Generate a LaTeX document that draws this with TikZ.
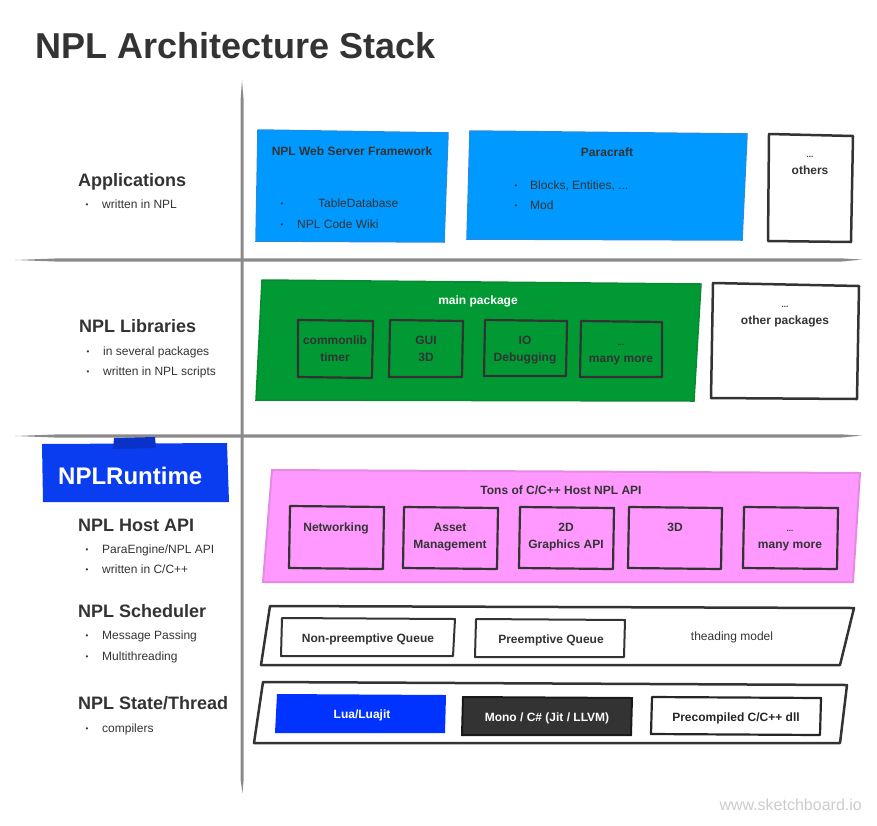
\documentclass[tikz,border=0pt]{standalone}
\usepackage{fontspec}
\setmainfont{Liberation Sans}
\definecolor{txt}{HTML}{333333}
\definecolor{appblue}{HTML}{0099FF}
\definecolor{appblueb}{HTML}{1E8FE8}
\definecolor{libgreen}{HTML}{009933}
\definecolor{libgreenb}{HTML}{0A8A30}
\definecolor{apipink}{HTML}{FF99FF}
\definecolor{apipinkb}{HTML}{E48AE4}
\definecolor{luablue}{HTML}{0033FF}
\definecolor{rtblue}{HTML}{0A3CF0}
\definecolor{rttab}{HTML}{0A32C8}
\definecolor{monodark}{HTML}{333333}
\definecolor{rulegray}{HTML}{8A8A8A}
\definecolor{wmark}{HTML}{CCCCCC}
\tikzset{
  heading/.style={font=\fontsize{18}{20}\selectfont\bfseries, text=txt, anchor=base west, inner sep=0},
  bultxt/.style={font=\fontsize{12}{14}\selectfont, text=txt, anchor=base west, inner sep=0},
  bulsym/.style={font=\fontsize{8}{9}\selectfont, text=txt, anchor=base, inner sep=0},
  lbl/.style={font=\fontsize{12}{14}\selectfont\bfseries, text=txt, anchor=base, inner sep=0},
  dots/.style={lbl, font=\fontsize{8}{9}\selectfont\bfseries},
  wlbl/.style={lbl, text=white},
  darkbox/.style={draw=txt, line width=2.5pt, line join=round},
  inbox/.style={darkbox, line width=2.2pt},
  appbox/.style={fill=appblue, draw=appblueb, line width=1.5pt},
  libbox/.style={fill=libgreen, draw=libgreenb, line width=1.5pt},
  apibox/.style={fill=apipink, draw=apipinkb, line width=2pt},
}
\begin{document}
\begin{tikzpicture}[x=1pt,y=-1pt]
\useasboundingbox (0,0) rectangle (877,825);
% title
\node[font=\fontsize{36}{40}\selectfont\bfseries, text=txt, anchor=base west, inner sep=0] (title) at (35,58) {NPL Architecture Stack};

% rules
\fill[rulegray] (15,260) -- (60,258.3) -- (840,258.3) -- (862,259.5) -- (840,261.7) -- (60,261.7) -- cycle;
\fill[rulegray] (15,436) -- (60,434.3) -- (840,434.3) -- (862,435.5) -- (840,437.7) -- (60,437.7) -- cycle;
\fill[rulegray] (242,80) -- (243.6,100) -- (243.6,780) -- (242.5,793) -- (240.6,780) -- (240.6,100) -- cycle;

% left headings
\node[heading] (happ) at (78,186) {Applications};
\node[bulsym] (b1) at (87,207) {•};
\node[bultxt] (t1) at (102,208) {written in NPL};

\node[heading] (hlib) at (79,332) {NPL Libraries};
\node[bulsym] (b2) at (88,354) {•};
\node[bultxt] (t2) at (103,355) {in several packages};
\node[bulsym] (b3) at (88,374) {•};
\node[bultxt] (t3) at (103,375) {written in NPL scripts};

% NPLRuntime
\fill[rtblue] (42,444) -- (227,443) -- (229,502) -- (43,502) -- cycle;
\fill[rttab] (114,438) -- (155,437) -- (156,448) -- (113,449) -- cycle;
\node[font=\fontsize{24}{28}\selectfont\bfseries, text=white, anchor=base west, inner sep=0] (rt) at (58,484) {NPLRuntime};

\node[heading] (hhost) at (78,531) {NPL Host API};
\node[bulsym] (b4) at (87,552) {•};
\node[bultxt] (t4) at (102,553) {ParaEngine/NPL API};
\node[bulsym] (b5) at (87,572) {•};
\node[bultxt] (t5) at (102,573) {written in C/C++};

\node[heading] (hsch) at (78,617) {NPL Scheduler};
\node[bulsym] (b6) at (87,638) {•};
\node[bultxt] (t6) at (102,639) {Message Passing};
\node[bulsym] (b7) at (87,659) {•};
\node[bultxt] (t7) at (102,660) {Multithreading};

\node[heading] (hst) at (78,709) {NPL State/Thread};
\node[bulsym] (b8) at (87,731) {•};
\node[bultxt] (t8) at (102,732) {compilers};

% Applications row
\filldraw[appbox] (258,130) -- (448,133) -- (444,242) -- (256,241) -- cycle;
\node[lbl] (web) at (352,155) {NPL Web Server Framework};
\node[bulsym] (wb1) at (282,206) {•};
\node[bultxt] (wt1) at (318,207) {TableDatabase};
\node[bulsym] (wb2) at (282,227) {•};
\node[bultxt] (wt2) at (297,228) {NPL Code Wiki};

\filldraw[appbox] (470,131) -- (747,134) -- (742,240) -- (467,239) -- cycle;
\node[lbl] (para) at (607,156) {Paracraft};
\node[bulsym] (pb1) at (516,188) {•};
\node[bultxt] (pt1) at (530,189) {Blocks, Entities, ...};
\node[bulsym] (pb2) at (516,208) {•};
\node[bultxt] (pt2) at (530,209) {Mod};

\filldraw[darkbox, fill=white] (769,134) -- (853,136) -- (851,242) -- (768,241) -- cycle;
\node[dots] (od) at (810,157) {...};
\node[lbl] (oth) at (810,174) {others};

% Libraries row
\filldraw[libbox] (262,280) -- (701,284) -- (694,401) -- (256,400) -- cycle;
\node[wlbl] (mainp) at (478,304) {main package};
\draw[inbox] (298,320) -- (373,321) -- (372,378) -- (298,377) -- cycle;
\node[lbl] (c1) at (335,344) {commonlib};
\node[lbl] (c2) at (335,361) {timer};
\draw[inbox] (390,320) -- (463,321) -- (462,377) -- (389,377) -- cycle;
\node[lbl] (g1) at (426,344) {GUI};
\node[lbl] (g2) at (426,361) {3D};
\draw[inbox] (485,320) -- (567,321) -- (566,376) -- (484,376) -- cycle;
\node[lbl] (i1) at (525,344) {IO};
\node[lbl] (i2) at (525,361) {Debugging};
\draw[inbox] (581,321) -- (662,322) -- (662,377) -- (580,377) -- cycle;
\node[dots] (m1) at (621,345) {...};
\node[lbl] (m2) at (621,362) {many more};

\filldraw[darkbox, fill=white] (713,283) -- (859,286) -- (857,399) -- (711,398) -- cycle;
\node[dots] (opd) at (785,307) {...};
\node[lbl] (op) at (785,324) {other packages};

% Host API row
\filldraw[apibox] (272,470) -- (860,473) -- (853,582) -- (263,582) -- cycle;
\node[lbl] (tons) at (561,494) {Tons of C/C++ Host NPL API};
\draw[inbox] (290,506) -- (384,507) -- (383,569) -- (289,568) -- cycle;
\node[lbl] (n1) at (336,531) {Networking};
\draw[inbox] (404,507) -- (498,508) -- (497,569) -- (403,568) -- cycle;
\node[lbl] (a1) at (450,531) {Asset};
\node[lbl] (a2) at (450,548) {Management};
\draw[inbox] (520,507) -- (614,508) -- (613,569) -- (519,568) -- cycle;
\node[lbl] (d1) at (566,531) {2D};
\node[lbl] (d2) at (566,548) {Graphics API};
\draw[inbox] (629,507) -- (722,508) -- (721,569) -- (628,568) -- cycle;
\node[lbl] (e1) at (675,531) {3D};
\draw[inbox] (744,507) -- (838,508) -- (837,569) -- (743,568) -- cycle;
\node[dots] (f1) at (790,531) {...};
\node[lbl] (f2) at (790,548) {many more};

% Scheduler row
\draw[darkbox] (270,606) -- (854,608) -- (840,665) -- (261,665) -- cycle;
\draw[darkbox, line width=2pt] (282,618) -- (455,619) -- (453,656) -- (281,656) -- cycle;
\node[lbl] (q1) at (368,642) {Non-preemptive Queue};
\draw[darkbox, line width=2pt] (476,619) -- (625,620) -- (624,657) -- (475,657) -- cycle;
\node[lbl] (q2) at (551,643) {Preemptive Queue};
\node[bultxt, anchor=base] (tm) at (732,640) {theading model};

% State/Thread row
\draw[darkbox] (263,682) -- (847,685) -- (840,743) -- (254,743) -- cycle;
\fill[luablue] (277,694) -- (446,695) -- (445,733) -- (275,733) -- cycle;
\node[wlbl] (lua) at (362,718) {Lua/Luajit};
\filldraw[monodark, draw=black!90, line width=2pt] (463,697) -- (632,698) -- (631,735) -- (462,735) -- cycle;
\node[wlbl] (mono) at (547,721) {Mono / C\# (Jit / LLVM)};
\draw[darkbox, line width=2.2pt, draw=black!85] (652,697) -- (821,698) -- (820,735) -- (651,734) -- cycle;
\node[lbl, text=black!85] (pre) at (736,721) {Precompiled C/C++ dll};

% watermark
\node[font=\fontsize{16}{18}\selectfont, text=wmark, anchor=base east, inner sep=0] (wm) at (862,810) {www.sketchboard.io};
\end{tikzpicture}
\end{document}
